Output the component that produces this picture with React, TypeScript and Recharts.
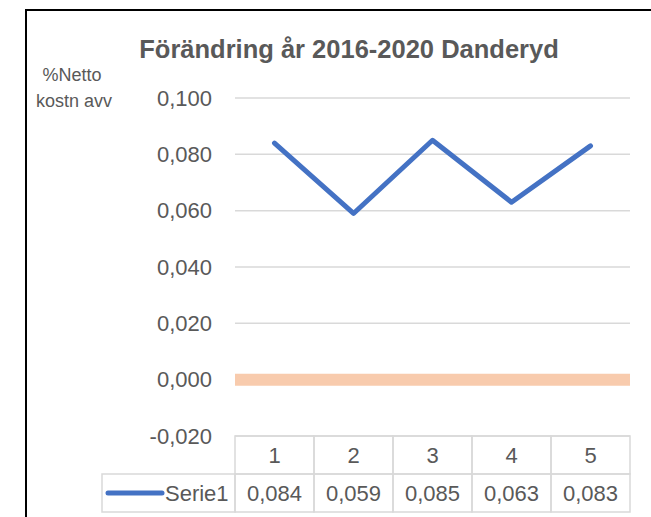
import React from "react";
import { LineChart, Line, XAxis, YAxis, CartesianGrid, ReferenceLine } from "recharts";

const categories = ["1", "2", "3", "4", "5"];
const serie1 = [0.084, 0.059, 0.085, 0.063, 0.083];
const yTicks = [-0.02, 0, 0.02, 0.04, 0.06, 0.08, 0.1];
const seriesName = "Serie1";
const title = "Förändring år 2016-2020 Danderyd";
const axisTitle = ["%Netto", "kostn avv"];

const data = categories.map((cat, i) => ({ cat, [seriesName]: serie1[i] }));

const FONT = "'Liberation Sans', Arial, sans-serif";
const TEXT = "#595959";
const GRID = "#D9D9D9";
const BLUE = "#4472C4";
const CELL_W = 79;
const ROW_H = 38;

const fmt = (v: number) => v.toFixed(3).replace(".", ",");

const TableTick = (props: any) => {
  const { x, y, payload } = props;
  const idx = payload.index ?? props.index;
  const half = CELL_W / 2;
  const left = x - half;
  return (
    <g fontFamily={FONT} fontSize={22} fill={TEXT}>
      <rect x={left} y={y} width={CELL_W} height={ROW_H} fill="none" stroke={GRID} strokeWidth={1.5} />
      <text x={x} y={y + ROW_H / 2} textAnchor="middle" dominantBaseline="central">
        {payload.value}
      </text>
      <rect x={left} y={y + ROW_H} width={CELL_W} height={ROW_H} fill="none" stroke={GRID} strokeWidth={1.5} />
      <text x={x} y={y + ROW_H * 1.5} textAnchor="middle" dominantBaseline="central">
        {fmt(data[idx][seriesName] as number)}
      </text>
      {idx === 0 && (
        <g>
          <rect x={102} y={y + ROW_H} width={left - 102} height={ROW_H} fill="none" stroke={GRID} strokeWidth={1.5} />
          <line x1={108} x2={162} y1={y + ROW_H * 1.5} y2={y + ROW_H * 1.5} stroke={BLUE} strokeWidth={5} strokeLinecap="round" />
          <text x={165} y={y + ROW_H * 1.5} dominantBaseline="central">
            {seriesName}
          </text>
        </g>
      )}
    </g>
  );
};

export default function App() {
  return (
    <div style={{ position: "absolute", left: 0, top: 0, width: 651, height: 517, background: "#fff", overflow: "hidden" }}>
      <div style={{ position: "absolute", left: 25, top: 9, width: 640, height: 520, borderTop: "2px solid #000", borderLeft: "2px solid #000" }} />
      <LineChart
        width={651}
        height={517}
        data={data}
        margin={{ top: 98, right: 21, bottom: 0, left: 175 }}
        style={{ position: "absolute", left: 0, top: 0 }}
      >
        <CartesianGrid horizontal vertical={false} stroke={GRID} strokeWidth={1.5} />
        <XAxis
          dataKey="cat"
          height={81}
          axisLine={false}
          tickLine={false}
          tickSize={0}
          tickMargin={0}
          interval={0}
          padding={{ left: CELL_W / 2, right: CELL_W / 2 }}
          tick={<TableTick />}
        />
        <YAxis
          width={60}
          domain={[-0.02, 0.1]}
          ticks={yTicks}
          tickFormatter={fmt}
          axisLine={false}
          tickLine={false}
          tickSize={0}
          tickMargin={23}
          tick={{ fill: TEXT, fontSize: 22, fontFamily: FONT }}
        />
        <ReferenceLine y={0} stroke="#F8CBAD" strokeWidth={12} ifOverflow="extendDomain" />
        <Line
          type="linear"
          dataKey={seriesName}
          stroke={BLUE}
          strokeWidth={5}
          strokeLinejoin="round"
          strokeLinecap="round"
          dot={false}
          activeDot={false}
          isAnimationActive={false}
        />
      </LineChart>
      <svg width={651} height={517} style={{ position: "absolute", left: 0, top: 0, pointerEvents: "none" }}>
        <text x={349} y={58} textAnchor="middle" fontFamily={FONT} fontWeight="bold" fontSize={25.5} fill={TEXT}>
          {title}
        </text>
        <g fontFamily={FONT} fontSize={18} fill={TEXT} textAnchor="middle">
          <text x={72} y={81}>{axisTitle[0]}</text>
          <text x={74} y={107}>{axisTitle[1]}</text>
        </g>
      </svg>
    </div>
  );
}
